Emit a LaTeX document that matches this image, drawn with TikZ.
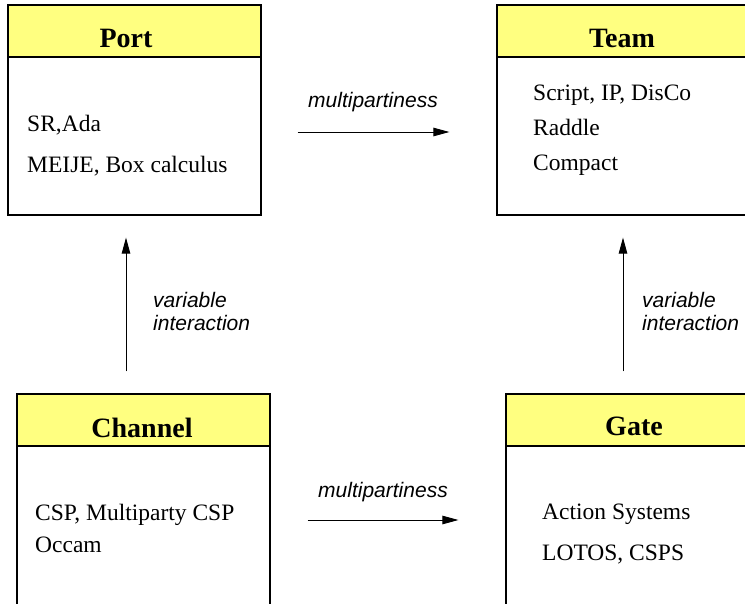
\documentclass[tikz,border=0pt]{standalone}
\usepackage{fontspec}
\setmainfont{Liberation Serif}
\newfontfamily\labelfont{Liberation Sans}
\usetikzlibrary{arrows.meta}
\definecolor{hdryellow}{RGB}{255,255,128}

\tikzset{
  box/.style={draw,line width=1.2pt,fill=white,minimum width=253pt,minimum height=210pt,inner sep=0pt},
  hdr/.style={draw,line width=1.2pt,fill=hdryellow,minimum width=253pt,minimum height=52pt,inner sep=0pt,anchor=north},
  title/.style={font=\fontsize{28}{30}\selectfont\bfseries,anchor=base,inner sep=0pt},
  entry/.style={font=\fontsize{23.5}{28}\selectfont,anchor=base west,inner sep=0pt},
  lbl/.style={font=\labelfont\itshape\fontsize{21}{23}\selectfont,align=left,inner sep=0pt},
  flow/.style={-{Triangle[length=16pt,width=8.5pt]},line width=0.9pt}
}

\begin{document}
\begin{tikzpicture}[x=1pt,y=-1pt]
  \useasboundingbox (0,0) rectangle (745,603);
  \clip (0,0) rectangle (745,603);

  % the four boxes
  \node[box] (port) at (134.5,110) {};
  \node[hdr] (porthdr) at (port.north) {};
  \node[title] (porttitle) at (126,47) {Port};
  \node[entry] (port1) at (27,131) {SR,Ada};
  \node[entry] (port2) at (27,172) {MEIJE, Box calculus};

  \node[box] (team) at (623.5,110) {};
  \node[hdr] (teamhdr) at (team.north) {};
  \node[title] (teamtitle) at (622,47) {Team};
  \node[entry] (team1) at (533,100) {Script, IP, DisCo};
  \node[entry] (team2) at (533,135) {Raddle};
  \node[entry] (team3) at (533,170) {Compact};

  \node[box,minimum height=216pt] (chan) at (143.5,502) {};
  \node[hdr] (chanhdr) at (chan.north) {};
  \node[title] (chantitle) at (142,437) {Channel};
  \node[entry] (chan1) at (35,520) {CSP, Multiparty CSP};
  \node[entry] (chan2) at (35,552) {Occam};

  \node[box,minimum height=216pt] (gate) at (632.5,502) {};
  \node[hdr] (gatehdr) at (gate.north) {};
  \node[title] (gatetitle) at (634,435) {Gate};
  \node[entry] (gate1) at (542,519) {Action Systems};
  \node[entry] (gate2) at (542,560) {LOTOS, CSPS};

  % arrows and their labels
  \draw[flow,shorten <=36pt,shorten >=47pt] ([yshift=-22pt]port.east) -- ([yshift=-22pt]team.west);
  \draw[flow,shorten <=37pt,shorten >=47pt] ([yshift=-18pt]chan.east) -- ([yshift=-18pt]gate.west);
  \draw[flow,shorten <=22pt,shorten >=22pt] ([xshift=-17.5pt]chan.north) -- ([xshift=-8.5pt]port.south);
  \draw[flow,shorten <=22pt,shorten >=22pt] ([xshift=-9.5pt]gate.north) -- ([xshift=-0.5pt]team.south);

  \node[lbl,anchor=base] (topmulti) at (373,107) {multipartiness};
  \node[lbl,anchor=base] (botmulti) at (383,497) {multipartiness};
  \node[lbl,anchor=west] (leftvar) at (153,311) {variable\\interaction};
  \node[lbl,anchor=west] (rightvar) at (642,311) {variable\\interaction};
\end{tikzpicture}
\end{document}
